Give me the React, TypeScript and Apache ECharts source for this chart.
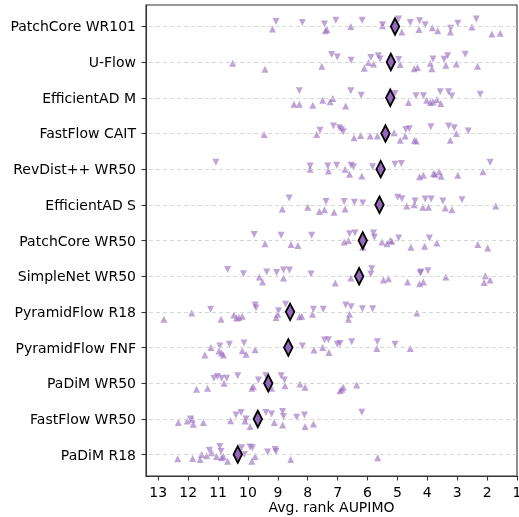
import React, { useEffect, useRef } from 'react';
import * as echarts from 'echarts';

const methods = [
  'PatchCore WR101', 'U-Flow', 'EfficientAD M', 'FastFlow CAIT', 'RevDist++ WR50',
  'EfficientAD S', 'PatchCore WR50', 'SimpleNet WR50', 'PyramidFlow R18',
  'PyramidFlow FNF', 'PaDiM WR50', 'FastFlow WR50', 'PaDiM R18',
];

const xTicks = [1, 2, 3, 4, 5, 6, 7, 8, 9, 10, 11, 12, 13];

const meanRank = [5.08, 5.22, 5.24, 5.40, 5.56, 5.60, 6.16, 6.28, 8.59, 8.65, 9.32, 9.67, 10.34];

// per-dataset average ranks, marker "^" (drawn slightly below the row)
const upRank: number[][] = [
  [9.18, 7.41, 7.36, 6.56, 5.50, 4.85, 4.28, 3.83, 3.65, 3.23, 2.51, 1.84, 1.56],
  [10.51, 9.43, 7.53, 6.11, 5.97, 5.80, 4.91, 4.44, 4.33, 3.90, 3.85, 3.38, 3.03, 2.32],
  [8.46, 8.28, 7.83, 7.50, 7.25, 7.16, 6.73, 4.63, 4.02, 3.90, 3.81, 3.68, 3.55],
  [9.46, 7.70, 6.45, 6.23, 5.91, 5.67, 5.11, 4.91, 4.74, 4.43, 4.37, 3.23, 3.03],
  [7.92, 7.31, 6.75, 6.60, 6.19, 4.26, 4.13, 3.79, 3.74, 3.60, 3.54, 2.98, 2.14],
  [8.85, 8.00, 7.61, 7.44, 7.12, 6.75, 4.69, 4.44, 4.15, 3.96, 3.40, 3.18, 1.71],
  [9.43, 8.56, 8.33, 6.78, 6.64, 6.16, 5.52, 5.35, 5.24, 5.19, 4.55, 4.09, 3.68, 2.31, 1.98],
  [9.62, 9.51, 8.81, 7.08, 6.56, 5.47, 5.30, 4.66, 4.26, 4.13, 3.38, 2.06, 2.10, 1.90],
  [12.81, 11.88, 10.90, 10.47, 10.38, 10.30, 10.19, 9.06, 9.00, 8.28, 8.20, 7.84, 6.64, 6.60, 4.35],
  [11.44, 11.24, 10.97, 10.88, 10.82, 10.19, 10.06, 9.76, 7.79, 7.50, 7.29, 5.69, 4.57],
  [11.72, 11.35, 10.80, 9.87, 9.82, 9.21, 8.76, 8.26, 8.09, 6.92, 6.86, 6.81, 6.36],
  [12.33, 12.03, 11.86, 11.83, 11.49, 10.58, 10.10, 9.93, 9.12, 8.84, 8.09, 7.81],
  [12.35, 11.85, 11.60, 11.55, 11.38, 11.21, 11.05, 10.88, 10.82, 10.68, 9.87, 9.76, 8.57, 5.66],
];
const upJitter: number[][] = [
  [0.07, 0.12, 0.09, 0.00, -0.02, 0.16, 0.09, 0.04, 0.12, 0.16, 0.02, 0.21, 0.19],
  [0.03, 0.20, 0.12, 0.17, 0.01, 0.05, 0.07, 0.19, 0.15, 0.03, 0.19, 0.09, 0.05, 0.12],
  [0.18, 0.18, 0.21, 0.07, 0.11, 0.02, 0.23, 0.13, 0.07, 0.13, 0.11, 0.05, 0.16],
  [0.03, 0.03, 0.12, 0.06, 0.07, 0.07, -0.02, 0.19, 0.07, 0.19, 0.21, 0.19, 0.00],
  [0.00, 0.05, 0.00, 0.14, 0.19, 0.21, 0.17, 0.12, 0.14, 0.07, 0.20, 0.17, 0.07],
  [0.12, 0.07, 0.19, 0.14, 0.21, 0.12, 0.03, 0.00, 0.07, 0.07, 0.09, 0.14, 0.03],
  [0.09, 0.11, 0.14, 0.04, 0.00, 0.19, 0.04, 0.09, 0.00, 0.02, 0.19, 0.16, 0.07, 0.11, 0.21],
  [0.02, 0.16, 0.05, 0.19, 0.05, 0.11, 0.07, 0.16, 0.21, 0.16, 0.02, -0.01, 0.18, 0.11],
  [0.21, 0.03, 0.21, 0.09, 0.17, 0.16, 0.12, 0.16, 0.07, 0.14, 0.12, 0.07, 0.21, 0.07, 0.03],
  [0.21, 0.00, 0.10, 0.15, 0.21, 0.09, 0.19, 0.06, 0.07, 0.00, 0.14, 0.03, 0.03],
  [0.17, 0.14, 0.00, 0.14, 0.09, 0.14, 0.07, 0.02, 0.11, 0.21, 0.17, 0.11, 0.05],
  [0.10, 0.06, 0.01, 0.15, 0.10, 0.05, 0.06, 0.21, 0.10, 0.17, 0.21, 0.14],
  [0.12, 0.11, 0.14, 0.00, 0.03, -0.05, 0.05, 0.09, 0.05, 0.19, 0.19, 0.05, 0.14, 0.09],
];

// per-dataset average ranks, marker "v" (drawn slightly above the row)
const downRank: number[][] = [
  [9.06, 8.18, 7.44, 7.06, 6.18, 5.50, 4.96, 4.57, 4.26, 4.07, 3.22, 2.98, 2.36],
  [7.20, 7.01, 6.55, 5.89, 5.64, 5.58, 4.96, 3.81, 3.44, 3.32, 2.73],
  [8.28, 6.56, 6.21, 5.08, 4.38, 4.13, 3.57, 3.29, 3.18, 2.23],
  [7.59, 7.14, 6.94, 6.87, 6.81, 4.72, 4.60, 3.88, 3.29, 3.10, 2.63],
  [11.07, 7.92, 7.33, 7.03, 6.55, 6.47, 5.83, 5.08, 4.87, 1.90],
  [8.62, 7.39, 6.78, 6.44, 6.16, 4.99, 4.85, 4.41, 4.07, 3.87, 3.48, 2.84],
  [9.79, 8.89, 7.87, 6.60, 6.42, 5.80, 5.77, 4.96, 3.93],
  [10.68, 10.15, 9.37, 9.04, 8.81, 8.61, 7.89, 5.86, 5.89, 4.24, 4.21, 3.98],
  [11.25, 9.76, 9.73, 8.98, 8.74, 7.81, 7.48, 6.73, 6.55, 6.17, 5.83],
  [10.94, 10.62, 10.13, 8.18, 7.44, 7.31, 7.01, 6.92, 6.53, 5.67, 5.08],
  [11.14, 11.02, 10.88, 10.71, 10.34, 9.65, 9.40, 8.89, 8.78],
  [11.92, 10.40, 10.23, 10.06, 9.40, 9.21, 8.84, 8.81, 8.37, 8.11, 6.19],
  [11.29, 10.94, 10.90, 10.21, 9.93, 9.85, 9.34, 9.09, 9.06, 10.12],
];
const downJitter: number[][] = [
  [-0.14, -0.11, -0.07, -0.17, -0.17, -0.05, -0.21, -0.11, -0.16, -0.05, 0.05, -0.09, -0.21],
  [-0.21, -0.14, -0.05, -0.13, -0.18, -0.09, -0.07, -0.09, -0.08, -0.18, -0.22],
  [-0.20, -0.20, -0.07, -0.12, -0.06, -0.06, -0.17, -0.17, -0.05, -0.10],
  [-0.09, -0.21, -0.16, -0.11, -0.05, -0.11, -0.13, -0.19, -0.21, -0.16, -0.07],
  [-0.19, -0.09, -0.09, -0.11, -0.11, -0.07, -0.07, -0.14, -0.16, -0.19],
  [-0.19, -0.09, -0.09, -0.07, -0.05, -0.21, -0.17, -0.11, -0.16, -0.16, -0.11, -0.14],
  [-0.17, -0.15, -0.15, -0.19, -0.21, -0.21, -0.09, -0.07, -0.07],
  [-0.19, -0.07, -0.12, -0.10, -0.17, -0.17, -0.06, -0.21, -0.06, -0.09, -0.12, -0.15],
  [-0.07, -0.19, -0.11, -0.03, -0.21, -0.07, -0.07, -0.19, -0.14, -0.09, -0.09],
  [-0.04, -0.09, -0.13, -0.04, -0.21, -0.22, -0.09, -0.11, -0.16, -0.16, -0.09],
  [-0.14, -0.19, -0.14, -0.14, -0.21, -0.09, -0.21, -0.21, -0.09],
  [0.00, -0.11, -0.18, 0.00, -0.18, -0.14, -0.21, -0.07, -0.05, -0.11, -0.19],
  [-0.12, -0.23, -0.09, -0.19, -0.21, -0.19, -0.07, -0.14, -0.09, 0.00],
];

const PURPLE = '#9467bd';
const FONT = 'DejaVu Sans';

export default function App() {
  const ref = useRef<HTMLDivElement>(null);
  useEffect(() => {
    const chart = echarts.init(ref.current!, null, { renderer: 'svg' });
    const upData: number[][] = [];
    const downData: number[][] = [];
    const meanData: number[][] = [];
    methods.forEach((_, i) => {
      upRank[i].forEach((r, k) => upData.push([r, i + upJitter[i][k]]));
      downRank[i].forEach((r, k) => downData.push([r, i + downJitter[i][k]]));
      meanData.push([meanRank[i], i]);
    });
    const rowIdx = methods.map((_, i) => i);
    chart.setOption({
      animation: false,
      grid: {
        left: 146, right: 2, top: 5, bottom: 41,
        outerBoundsMode: 'none', containLabel: false,
        show: true, borderColor: '#333', borderWidth: 1.1,
      },
      xAxis: {
        type: 'value', min: 1, max: 13.41, inverse: true, interval: 1,
        name: 'Avg. rank AUPIMO', nameLocation: 'middle', nameGap: 24, nameMoveOverlap: false,
        nameTextStyle: { fontFamily: FONT, fontSize: 14, color: '#000' },
        axisLine: { show: true, onZero: false, lineStyle: { color: '#333', width: 1.1 } },
        axisTick: { show: true, length: 4.5, customValues: xTicks, lineStyle: { color: '#333', width: 1.1 } },
        axisLabel: {
          customValues: xTicks, margin: 9,
          fontFamily: FONT, fontSize: 14, color: '#000',
          formatter: (v: number) => String(Math.round(v)),
        },
        splitLine: { show: false },
      },
      yAxis: {
        type: 'value', min: -0.6, max: 12.6, inverse: true,
        axisLine: { show: true, onZero: false, lineStyle: { color: '#333', width: 1.1 } },
        axisTick: { show: true, length: 4.5, customValues: rowIdx, lineStyle: { color: '#333', width: 1.1 } },
        axisLabel: {
          customValues: rowIdx, margin: 10,
          fontFamily: FONT, fontSize: 14, color: '#000',
          formatter: (v: number) => methods[Math.round(v)] ?? '',
        },
        splitLine: { show: false },
      },
      series: [
        {
          type: 'scatter', data: [], z: 1, silent: true,
          markLine: {
            silent: true, symbol: ['none', 'none'], label: { show: false },
            lineStyle: { type: [4, 3], color: '#d4d4d4', width: 0.9 },
            data: rowIdx.map((i) => ({ yAxis: i })),
          },
        },
        {
          type: 'scatter', data: upData, z: 2, symbol: 'triangle', symbolSize: 7,
          itemStyle: { color: PURPLE, opacity: 0.6 },
        },
        {
          type: 'scatter', data: downData, z: 2, symbol: 'triangle', symbolSize: 7, symbolRotate: 180,
          itemStyle: { color: PURPLE, opacity: 0.6 },
        },
        {
          type: 'scatter', data: meanData, z: 5, symbol: 'diamond', symbolSize: [8.5, 16.5],
          itemStyle: { color: PURPLE, borderColor: '#000', borderWidth: 2, opacity: 1 },
        },
      ],
    });
    return () => chart.dispose();
  }, []);
  return <div ref={ref} style={{ position: 'fixed', left: 0, top: 0, width: 519, height: 517 }} />;
}
